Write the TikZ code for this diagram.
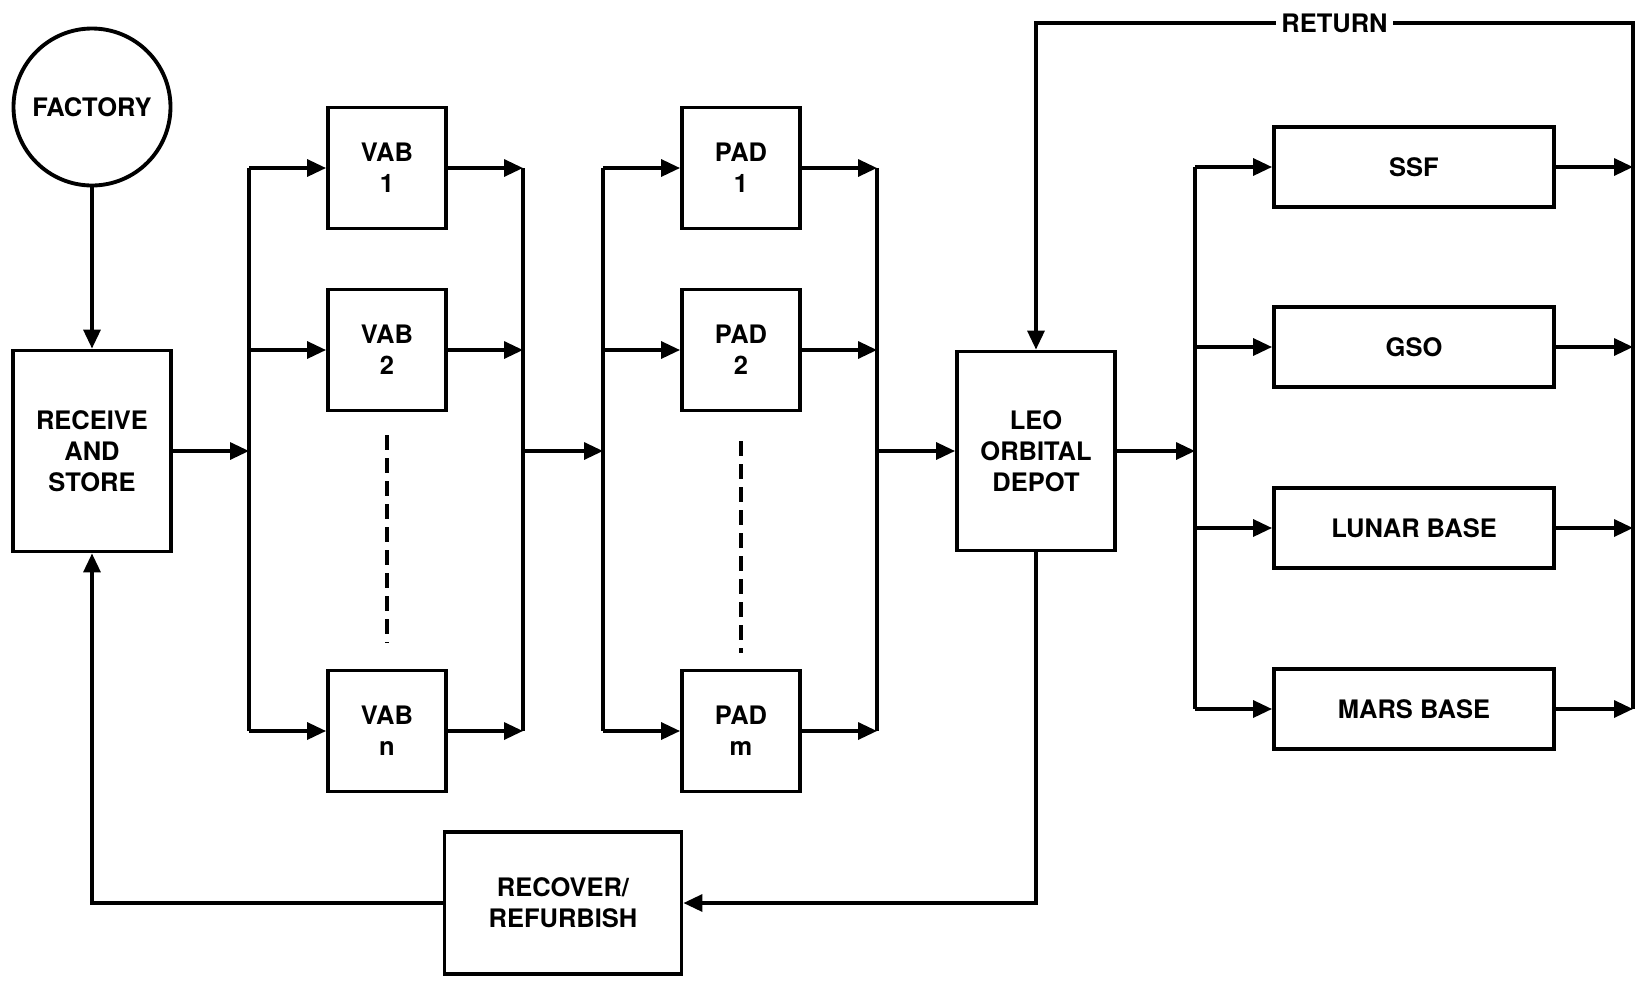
\documentclass[tikz,border=0pt]{standalone}
\usepackage{fontspec}
\setmainfont{TeX Gyre Heros}
\usepackage{tikz}
\usetikzlibrary{arrows.meta}

\begin{document}
\begin{tikzpicture}[x=0.2mm, y=-0.2mm, >={Triangle[length=3.8mm, width=3.4mm]}, line width=1.9pt,
  every node/.style={font=\fontsize{14.5}{17.5}\selectfont\bfseries},
  box/.style={draw, line width=2.2pt, align=center, inner sep=0pt},
  flow/.style={->},
  gap/.style={line width=1.9pt, dash pattern=on 3mm off 1.6mm}]
  \useasboundingbox (0,0) rectangle (1641,982);

  % Factory and receiving
  \node[box, circle, minimum size=31.4mm] (factory) at (92,107) {FACTORY};
  \node[box, minimum width=31.6mm, minimum height=40.2mm] (receive) at (92,451) {RECEIVE\\AND\\STORE};
  \draw[flow] (factory) -- (receive);

  % Bus lines
  \coordinate (vabin) at (249,451);
  \coordinate (vabout) at (523,451);
  \coordinate (padin) at (603,451);
  \coordinate (padout) at (877,451);
  \coordinate (destin) at (1195,451);
  \coordinate (destout) at (1633,451);
  \coordinate (rettop) at (1633,23);

  % Vehicle assembly buildings
  \node[box, minimum width=23.6mm, minimum height=24.2mm] (vab1) at (387,168) {VAB\\1};
  \node[box, minimum width=23.6mm, minimum height=24.2mm] (vab2) at (387,350) {VAB\\2};
  \node[box, minimum width=23.6mm, minimum height=24.2mm] (vabn) at (387,731) {VAB\\n};
  \draw[flow] (receive) -- (vabin);
  \draw (vab1.west -| vabin) -- (vabn.west -| vabin);
  \draw (vab1.east -| vabout) -- (vabn.east -| vabout);
  \foreach \v in {vab1,vab2,vabn} {
    \draw[flow] (\v.west -| vabin) -- (\v);
    \draw[flow] (\v) -- (\v.east -| vabout);
  }
  \draw[gap] ([yshift=-4.6mm]vab2.south) -- ([yshift=5.2mm]vabn.north);

  % Launch pads
  \node[box, minimum width=23.6mm, minimum height=24.2mm] (pad1) at (741,168) {PAD\\1};
  \node[box, minimum width=23.6mm, minimum height=24.2mm] (pad2) at (741,350) {PAD\\2};
  \node[box, minimum width=23.6mm, minimum height=24.2mm] (padm) at (741,731) {PAD\\m};
  \draw[flow] (vabout) -- (padin);
  \draw (pad1.west -| padin) -- (padm.west -| padin);
  \draw (pad1.east -| padout) -- (padm.east -| padout);
  \foreach \p in {pad1,pad2,padm} {
    \draw[flow] (\p.west -| padin) -- (\p);
    \draw[flow] (\p) -- (\p.east -| padout);
  }
  \draw[gap] ([yshift=-5.8mm]pad2.south) -- ([yshift=3.2mm]padm.north);

  % LEO depot
  \node[box, minimum width=31.6mm, minimum height=39.8mm] (leo) at (1036,451) {LEO\\ORBITAL\\DEPOT};
  \draw[flow] (padout) -- (leo);
  \draw[flow] (leo) -- (destin);

  % Destinations
  \node[box, minimum width=56mm, minimum height=16mm] (ssf) at (1414,167) {SSF};
  \node[box, minimum width=56mm, minimum height=16mm] (gso) at (1414,347) {GSO};
  \node[box, minimum width=56mm, minimum height=16mm] (lunar) at (1414,528) {LUNAR BASE};
  \node[box, minimum width=56mm, minimum height=16mm] (mars) at (1414,709) {MARS BASE};
  \draw (ssf.west -| destin) -- (mars.west -| destin);
  \foreach \d in {ssf,gso,lunar,mars} {
    \draw[flow] (\d.west -| destin) -- (\d);
    \draw[flow] (\d) -- (\d.east -| destout);
  }

  % Return and recovery
  \draw[flow] (mars.east -| destout) -- (rettop) -| node[pos=0.25, fill=white, inner xsep=1mm] {RETURN} (leo);
  \node[box, minimum width=47.4mm, minimum height=28.4mm] (recover) at (563,903) {RECOVER/\\REFURBISH};
  \draw[flow] (leo) |- (recover);
  \draw[flow] (recover) -| (receive);
\end{tikzpicture}
\end{document}
